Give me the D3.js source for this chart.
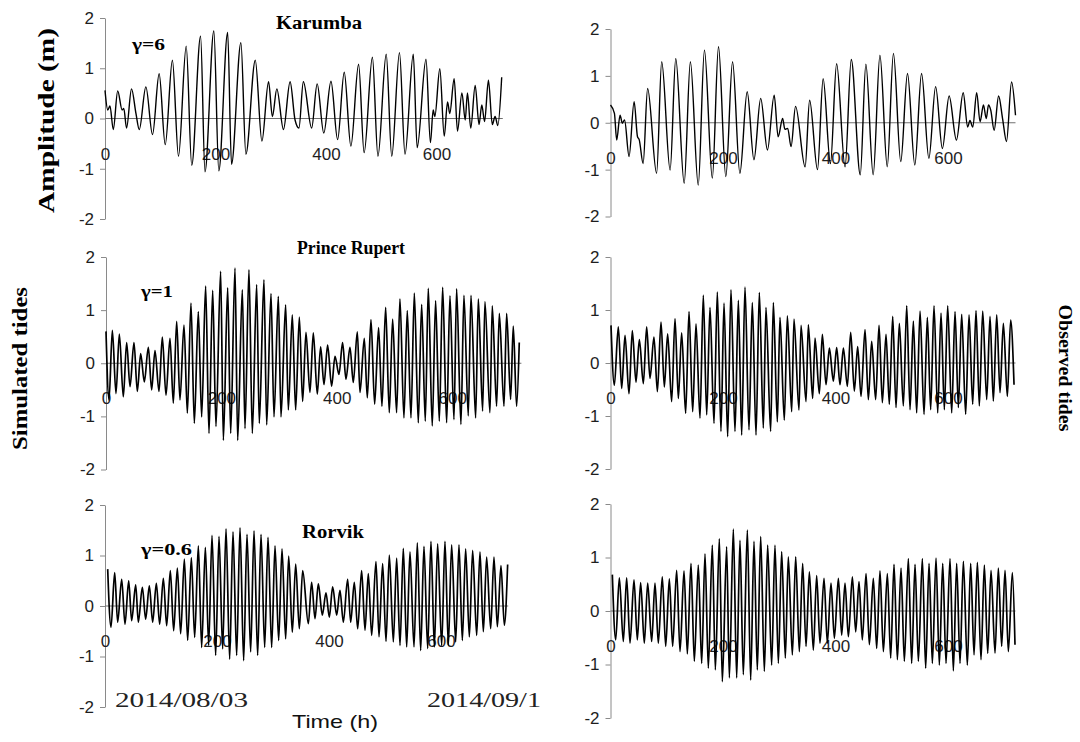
<!DOCTYPE html>
<html><head><meta charset="utf-8">
<script src="https://cdn.jsdelivr.net/npm/d3@7"></script>
<style>body{margin:0;background:#fff}</style>
</head><body>
<svg id="c" width="1080" height="742"></svg>
<script>
// ---------- DATA (tidal extremes [hour, metres]) ----------
const timeTicks = [0, 200, 400, 600];
const ampTicks = [-2, -1, 0, 1, 2];
const stations = ["Karumba", "Prince Rupert", "Rorvik"];
const gammas = ["γ=6", "γ=1", "γ=0.6"];

const karumbaSim = [[0,0.56],[5,0.17],[9,0.25],[15,-0.22],[23,0.55],[31,0.17],[34,0.2],[39,-0.19],[48,0.59],[56,0.1],[62,-0.22],[74,0.63],[86,-0.32],[98,0.89],[109,-0.52],[122,1.16],[133,-0.75],[147,1.44],[157,-0.93],[173,1.64],[181,-1.06],[197,1.74],[206,-1.04],[222,1.71],[229,-0.91],[246,1.51],[255,-0.71],[272,1.16],[284,-0.45],[296,0.73],[303,0.04],[311,0.59],[323,-0.22],[335,0.73],[344,-0.03],[351,-0.19],[359,0.73],[374,-0.19],[384,0.69],[396,-0.29],[409,0.74],[421,-0.42],[433,0.92],[445,-0.55],[459,1.08],[469,-0.68],[484,1.22],[494,-0.75],[509,1.28],[519,-0.75],[533,1.31],[543,-0.71],[558,1.28],[565,-0.58],[581,1.18],[589,-0.48],[594,0.17],[597,0.04],[606,0.99],[614,-0.35],[620,0.33],[624,0.1],[632,0.79],[638,-0.25],[646,0.51],[652,-0.03],[656,0.51],[662,-0.19],[670,0.66],[677,-0.12],[682,0.27],[687,-0.06],[694,0.76],[701,-0.12],[706,0.04],[711,-0.14],[718,0.82]];

const karumbaObs = [[0,0.38],[7,0.2],[11,-0.37],[17,0.16],[21,-0.01],[25,0.06],[33,-0.72],[42,0.45],[48,-0.3],[51,-0.36],[58,-0.87],[66,0.73],[82,-1.08],[91,1.3],[106,-1.01],[116,1.37],[131,-1.29],[142,1.3],[156,-1.33],[167,1.55],[181,-1.18],[192,1.62],[205,-1.15],[217,1.3],[230,-1.08],[243,0.66],[255,-0.79],[267,0.52],[279,-0.58],[291,0.59],[298,-0.3],[306,0.09],[310,-0.14],[315,-0.12],[321,-0.51],[329,0.35],[346,-0.94],[354,0.48],[368,-1.0],[378,0.94],[391,-0.87],[402,1.26],[417,-0.94],[428,1.35],[444,-1.11],[454,1.25],[467,-1.11],[479,1.44],[492,-0.94],[503,1.48],[516,-0.83],[528,1.05],[541,-0.9],[553,1.05],[566,-0.76],[578,0.77],[590,-0.55],[602,0.57],[615,-0.37],[627,0.64],[635,-0.09],[639,0.05],[644,-0.09],[651,0.64],[657,0.02],[663,0.38],[668,0.09],[672,0.38],[676,0.27],[682,-0.16],[690,0.57],[697,0.09],[704,-0.4],[713,0.87],[720,0.16]];

const rupertSimHigh = [[0,0.6],[11,0.62],[23.1,0.55],[35.8,0.39],[48.5,0.39],[60.1,0.18],[73.4,0.3],[84.9,0.24],[97.6,0.49],[110.9,0.47],[122.5,0.79],[135.2,0.72],[147.3,1.13],[160,0.97],[172.7,1.45],[184.9,1.37],[198.7,1.73],[210.9,1.42],[223.6,1.79],[236.3,1.38],[247.8,1.76],[261.1,1.48],[273.8,1.57],[286,1.31],[298.7,1.26],[311.4,1.1],[322.9,0.91],[335.1,0.87],[346.6,0.58],[359.3,0.57],[372,0.31],[384.1,0.34],[396.9,0.13],[410.1,0.39],[422.9,0.3],[435.6,0.59],[447.7,0.47],[459.3,0.82],[472.5,0.67],[484.7,1.05],[496.8,0.83],[509.5,1.21],[522.2,0.99],[534.4,1.32],[547.1,1.11],[558.6,1.41],[571.3,1.18],[583.5,1.43],[596.2,1.27],[607.7,1.4],[620.4,1.28],[632.6,1.28],[645.3,1.21],[656.8,1.16],[669.5,1.08],[681.7,0.94],[694.4,0.94],[705.9,0.7],[716.3,0.39]];
const rupertSimLow = [[5.2,-0.69],[17.3,-0.57],[30,-0.63],[41.6,-0.44],[54.3,-0.53],[66.4,-0.35],[79.1,-0.5],[91.9,-0.53],[104,-0.6],[116.7,-0.75],[128.2,-0.69],[141,-0.94],[153.1,-1.13],[165.8,-1.01],[178.5,-1.32],[190.6,-1.19],[203.4,-1.45],[216.1,-1.32],[228.2,-1.45],[240.9,-1.23],[253.6,-1.32],[265.7,-1.13],[278.5,-1.16],[291.2,-1.01],[303.3,-1.01],[316,-0.88],[328.7,-0.88],[340.8,-0.72],[353.5,-0.55],[366.2,-0.58],[377.8,-0.4],[391.1,-0.43],[403.8,-0.21],[415.9,-0.3],[428.6,-0.36],[440.2,-0.55],[452.9,-0.65],[465.6,-0.77],[478.3,-0.81],[491,-0.93],[503.7,-0.93],[516.4,-1.03],[528.6,-1.03],[541.3,-1.12],[553.4,-1.09],[565.5,-1.18],[577.7,-1.09],[590.4,-1.12],[603.1,-1.06],[615.2,-1.15],[627.9,-0.99],[640.7,-1.03],[652.8,-0.9],[665.5,-0.93],[677,-0.81],[689.8,-0.81],[701.3,-0.68],[711.7,-0.81]];

const rupertObsHigh = [[0.9,0.71],[13.9,0.68],[25.8,0.52],[38.8,0.61],[51.3,0.44],[64.3,0.68],[77.3,0.49],[89.8,0.77],[101.6,0.55],[114.7,0.84],[126.5,0.57],[139.6,0.97],[152,0.74],[165,1.28],[176.9,1.05],[189.9,1.34],[201.8,1.13],[214.2,1.38],[227.3,1.18],[239.1,1.43],[252.1,1.14],[264.6,1.33],[276.4,1.05],[289.5,1.14],[301.3,0.86],[314.4,0.89],[326.2,0.83],[338.7,0.71],[351.7,0.72],[363.6,0.47],[376.6,0.54],[389.1,0.28],[402.1,0.29],[414,0.28],[427,0.58],[439.4,0.31],[452.5,0.63],[464.3,0.41],[477.4,0.71],[489.8,0.54],[501.7,0.88],[513.5,0.75],[526.6,1.08],[538.4,0.79],[550.3,0.98],[563.3,0.86],[575.1,1.08],[587.6,0.94],[599.4,1.08],[612.5,0.97],[624.3,0.92],[637.4,0.91],[649.8,0.99],[661.7,0.98],[674.7,0.88],[686.6,0.91],[698.4,0.75],[711.4,0.81]];
const rupertObsLow = [[6.8,-0.42],[19.9,-0.48],[32.9,-0.58],[45.3,-0.36],[58.4,-0.39],[70.2,-0.29],[83.3,-0.54],[95.7,-0.45],[108.7,-0.73],[120.6,-0.67],[133.6,-0.95],[146.1,-0.92],[159.1,-1.04],[171,-0.98],[184,-1.14],[196.4,-1.29],[208.3,-1.39],[221.3,-1.29],[233.2,-1.36],[246.2,-1.26],[258.7,-1.36],[271.7,-1.23],[284.7,-1.29],[296.6,-1.11],[309,-1.08],[322.1,-0.92],[335.1,-0.89],[347.6,-0.73],[359.4,-0.67],[371.3,-0.58],[383.1,-0.41],[396.2,-0.34],[408,-0.41],[421.1,-0.44],[433.5,-0.53],[445.4,-0.63],[458.4,-0.69],[471.4,-0.69],[483.3,-0.75],[495.7,-0.78],[507.6,-0.84],[520.6,-0.81],[532.5,-0.88],[544.3,-0.94],[557.4,-0.97],[569.2,-0.88],[581.7,-0.94],[593.5,-0.88],[606.6,-0.94],[618.4,-0.84],[631.4,-0.97],[643.9,-0.78],[655.7,-0.81],[668.8,-0.69],[680.6,-0.72],[692.5,-0.56],[705.5,-0.63],[717.4,-0.41]];

const rorvikSimHigh = [[4.8,0.73],[17.3,0.66],[29.8,0.53],[42.3,0.5],[54.8,0.42],[66.7,0.37],[79.2,0.4],[91.7,0.45],[104.2,0.55],[116.7,0.7],[129.2,0.75],[141.7,0.93],[154.2,0.96],[166.7,1.19],[179.2,1.16],[191.1,1.4],[203.6,1.38],[216.1,1.53],[228.6,1.47],[241.1,1.55],[253.6,1.42],[266.1,1.49],[278.6,1.42],[291.1,1.36],[303.6,1.19],[316.1,1.13],[328,0.99],[340.5,0.83],[353,0.7],[369,0.47],[380.9,0.44],[394.6,0.26],[406.5,0.38],[419.6,0.31],[433.3,0.53],[445.2,0.47],[458.3,0.7],[470.2,0.64],[483.9,0.88],[495.8,0.84],[507.7,1.01],[520.8,0.95],[532.7,1.14],[544.6,1.07],[557.7,1.25],[569.6,1.18],[582.1,1.28],[594,1.23],[607.1,1.28],[619,1.21],[632.1,1.21],[644,1.13],[656.5,1.1],[669.6,1.07],[681.5,0.97],[694.6,0.97],[707.1,0.8],[719,0.82]];
const rorvikSimLow = [[10.7,-0.42],[22.6,-0.32],[35.7,-0.36],[47.6,-0.29],[59.5,-0.32],[72.6,-0.26],[85.1,-0.32],[97.6,-0.36],[110.1,-0.39],[122.6,-0.49],[135.1,-0.55],[147.6,-0.68],[160.1,-0.62],[172.6,-0.82],[185.1,-0.78],[197.6,-0.98],[210.1,-0.85],[222.6,-1.05],[235.1,-0.98],[247.6,-1.08],[260.1,-0.91],[272.6,-0.98],[285.1,-0.82],[297.6,-0.82],[310.1,-0.68],[322.6,-0.65],[334.5,-0.52],[347,-0.45],[363.1,-0.35],[375,-0.25],[388.1,-0.18],[400.6,-0.22],[413.7,-0.18],[425.6,-0.32],[438.7,-0.32],[451.2,-0.45],[464.3,-0.48],[476.2,-0.58],[489.3,-0.61],[501.8,-0.7],[514.9,-0.71],[526.8,-0.78],[538.7,-0.81],[551.8,-0.81],[563.7,-0.88],[576.2,-0.84],[588.1,-0.81],[601.2,-0.78],[613.1,-0.78],[626.2,-0.71],[638.1,-0.68],[650.6,-0.61],[663.7,-0.58],[675.6,-0.51],[688.7,-0.45],[700.6,-0.41],[713.1,-0.38]];

const rorvikObsHigh = [[3.3,0.68],[15.7,0.62],[28.7,0.62],[41.8,0.58],[53.6,0.53],[66.1,0.52],[79.1,0.52],[92.1,0.64],[104.6,0.6],[117.6,0.76],[130.7,0.75],[143.1,0.89],[156.1,0.86],[168,1.07],[181,1.23],[193.5,1.35],[206.5,1.2],[218.4,1.53],[230.2,1.32],[243.3,1.51],[255.1,1.3],[267,1.39],[279.4,1.23],[292.4,1.23],[304.3,1.11],[316.1,1.01],[329.2,1.01],[341.6,0.89],[353.5,0.73],[366.5,0.66],[379.6,0.61],[392,0.52],[405.1,0.61],[416.9,0.52],[430,0.64],[441.8,0.55],[454.3,0.7],[467.3,0.61],[479.1,0.75],[492.2,0.7],[504,0.87],[516.5,0.8],[529.5,0.98],[541.4,0.87],[554.4,0.98],[566.3,0.89],[578.7,0.99],[590.6,0.89],[603.6,0.98],[615.4,0.89],[627.3,0.93],[640.3,0.89],[652.2,0.91],[664.6,0.86],[676.5,0.76],[689.5,0.8],[701.4,0.76],[714.4,0.72]];
const rorvikObsLow = [[9.2,-0.54],[22.8,-0.57],[34.7,-0.6],[47.7,-0.54],[60.1,-0.6],[73.2,-0.57],[85,-0.6],[98.1,-0.66],[110.5,-0.66],[123.6,-0.76],[136.6,-0.8],[149,-0.94],[162.1,-0.98],[173.9,-1.07],[186.4,-1.1],[198.8,-1.32],[211.3,-1.25],[224.3,-1.25],[236.1,-1.19],[249.2,-1.29],[261,-1.1],[273.5,-1.13],[286.5,-1.01],[298.4,-0.98],[310.8,-0.88],[323.3,-0.82],[335.7,-0.76],[347.6,-0.66],[360.6,-0.73],[372.4,-0.6],[385.5,-0.6],[398,-0.51],[411,-0.45],[422.9,-0.48],[435.9,-0.39],[447.7,-0.54],[460.2,-0.63],[473.2,-0.7],[485.1,-0.76],[498.1,-0.88],[510,-0.91],[522.4,-0.94],[535.4,-0.98],[547.3,-0.94],[560.3,-1.07],[572.2,-0.98],[584.6,-1.01],[596.5,-0.98],[609.5,-1.12],[621.4,-0.98],[634.4,-1.01],[646.3,-0.82],[658.7,-0.91],[670.6,-0.79],[683.6,-0.79],[695.4,-0.66],[707.3,-0.76],[719.1,-0.63]];

// ---------- LAYOUT ----------
const merge = (h, l) => h.concat(l).sort((a, b) => a[0] - b[0]);
const panels = [
  {series: karumbaSim, x0:105, x1:502.8, yTop:18, yBot:219, w:1.4},
  {series: karumbaObs, x0:610.5, x1:1015.5, yTop:29, yBot:216.5, w:1.4},
  {series: merge(rupertSimHigh, rupertSimLow), x0:106, x1:521.4, yTop:257, yBot:469.5, w:1.7},
  {series: merge(rupertObsHigh, rupertObsLow), x0:610.5, x1:1015.5, yTop:257, yBot:469, w:1.7},
  {series: merge(rorvikSimHigh, rorvikSimLow), x0:105, x1:508.2, yTop:505, yBot:707, w:1.7},
  {series: merge(rorvikObsHigh, rorvikObsLow), x0:610.5, x1:1015.5, yTop:504, yBot:718, w:1.7}
];

const svg = d3.select("#c");
const tickFont = "'Liberation Sans', Arial, sans-serif";
const serif = "'Liberation Serif', 'Times New Roman', serif";

panels.forEach(p => {
  const x = d3.scaleLinear().domain([0, 720]).range([p.x0, p.x1]);
  const y = d3.scaleLinear().domain([-2, 2]).range([p.yBot, p.yTop]);
  const g = svg.append("g");

  // y axis
  const ya = g.append("g").attr("transform", `translate(${p.x0},0)`)
    .call(d3.axisLeft(y).tickValues(ampTicks).tickFormat(d => String(d))
      .tickSize(5).tickPadding(6).tickSizeOuter(0));
  ya.select(".domain").attr("stroke", "#8a8a8a");
  ya.selectAll(".tick line").attr("stroke", "#8a8a8a");
  ya.selectAll("text").attr("font-family", tickFont).attr("font-size", 17).attr("fill", "#1e1e1e");

  // x tick labels (below zero line)
  const xa = g.append("g").attr("transform", `translate(0,${y(0)})`)
    .call(d3.axisBottom(x).tickValues(timeTicks).tickFormat(d => String(d)).tickSize(0).tickPadding(29));
  xa.select(".domain").remove();
  xa.selectAll("text").attr("font-family", tickFont).attr("font-size", 17).attr("fill", "#1e1e1e");

  // zero line
  g.append("line").attr("x1", x(0)).attr("x2", p.x1).attr("y1", y(0)).attr("y2", y(0))
    .attr("stroke", "#707070").attr("stroke-width", 1);

  // tide curve
  const line = d3.line().x(d => x(d[0])).y(d => y(d[1])).curve(d3.curveMonotoneX);
  g.append("path").datum(p.series).attr("d", line)
    .attr("fill", "none").attr("stroke", "#000").attr("stroke-width", p.w).attr("stroke-linejoin", "round");
});

// station names and gamma labels
const titlePos = [{x:276, y:29, len:86}, {x:297, y:254, len:108}, {x:302, y:538, len:62}];
const gammaPos = [{x:132, y:50, len:33}, {x:141, y:297, len:32}, {x:141, y:555, len:51}];
stations.forEach((s, i) => {
  svg.append("text").attr("x", titlePos[i].x).attr("y", titlePos[i].y)
    .attr("font-family", serif).attr("font-weight", "bold").attr("font-size", 18)
    .attr("textLength", titlePos[i].len).attr("lengthAdjust", "spacingAndGlyphs").text(s);
  svg.append("text").attr("x", gammaPos[i].x).attr("y", gammaPos[i].y)
    .attr("font-family", serif).attr("font-weight", "bold").attr("font-size", 17)
    .attr("textLength", gammaPos[i].len).attr("lengthAdjust", "spacingAndGlyphs").text(gammas[i]);
});

// axis titles
svg.append("text").attr("transform", "translate(54,120.5) rotate(-90)").attr("text-anchor", "middle")
  .attr("font-family", serif).attr("font-weight", "bold").attr("font-size", 23)
  .attr("textLength", 185).attr("lengthAdjust", "spacingAndGlyphs").text("Amplitude (m)");
svg.append("text").attr("transform", "translate(27,368.5) rotate(-90)").attr("text-anchor", "middle")
  .attr("font-family", serif).attr("font-weight", "bold").attr("font-size", 21)
  .attr("textLength", 163).attr("lengthAdjust", "spacingAndGlyphs").text("Simulated tides");
svg.append("text").attr("transform", "translate(1059,368) rotate(90)").attr("text-anchor", "middle")
  .attr("font-family", serif).attr("font-weight", "bold").attr("font-size", 19)
  .attr("textLength", 127).attr("lengthAdjust", "spacingAndGlyphs").text("Observed tides");

// dates and time label
svg.append("text").attr("x", 115).attr("y", 707).attr("font-family", serif).attr("font-size", 20)
  .attr("fill", "#222").attr("textLength", 133).attr("lengthAdjust", "spacingAndGlyphs").text("2014/08/03");
svg.append("text").attr("x", 427).attr("y", 707).attr("font-family", serif).attr("font-size", 20)
  .attr("fill", "#222").attr("textLength", 114).attr("lengthAdjust", "spacingAndGlyphs").text("2014/09/1");
svg.append("text").attr("x", 292).attr("y", 728).attr("font-family", tickFont).attr("font-size", 19)
  .attr("fill", "#111").attr("textLength", 86).attr("lengthAdjust", "spacingAndGlyphs").text("Time (h)");
</script>
</body></html>
